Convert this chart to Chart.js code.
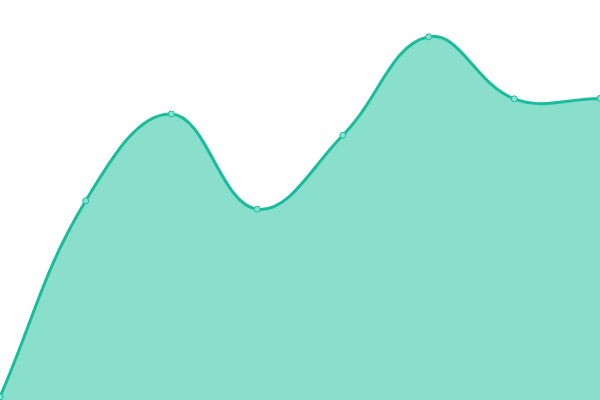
<!DOCTYPE html>
<html>
<head>
<meta charset="utf-8">
<script src="https://cdn.jsdelivr.net/npm/chart.js@4"></script>
<style>
  body { margin: 0; background: #fff; }
  canvas { display: block; }
</style>
</head>
<body>
<canvas id="chart" width="600" height="400"></canvas>
<script>
// categories (hidden on the chart) and the single series
const labels = ['Jan', 'Feb', 'Mar', 'Apr', 'May', 'Jun', 'Jul', 'Aug'];
const values = [0.8, 49.8, 71.5, 47.7, 66.2, 90.8, 75.3, 75.4];

const yMin = 0;
const yMax = 100;

let canvas = document.getElementById('chart');

let chart = new Chart(canvas, {
    type: 'line',
    data: {
        labels: labels,
        datasets: [{
            data: values,
            fill: 'start',
            backgroundColor: 'rgba(22, 190, 154, 0.5)',
            borderColor: 'rgb(26, 188, 156)',
            borderWidth: 3,
            tension: 0.4,
            radius: 3,
            pointBackgroundColor: 'rgb(136, 224, 207)',
            pointBorderColor: 'rgb(26, 188, 156)',
            pointBorderWidth: 1
        }]
    },
    options: {
        responsive: false,
        animation: false,
        layout: { padding: 0, autoPadding: false },
        plugins: {
            legend: { display: false },
            tooltip: { enabled: false }
        },
        scales: {
            x: { display: false },
            y: { display: false, min: yMin, max: yMax }
        }
    }
});
</script>
</body>
</html>
